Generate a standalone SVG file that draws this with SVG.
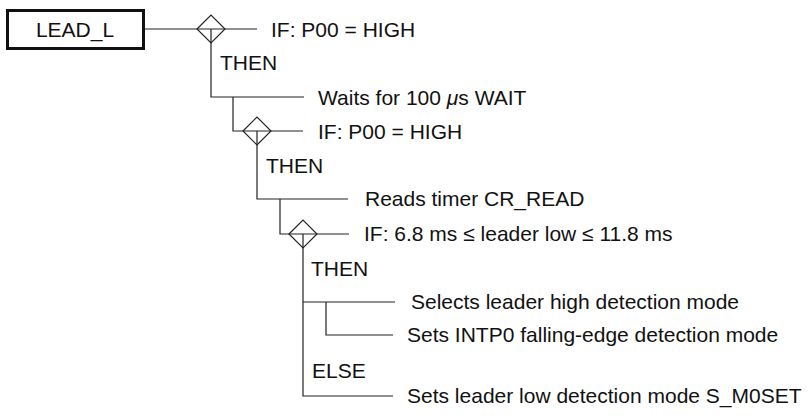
<svg xmlns="http://www.w3.org/2000/svg" width="812" height="420" viewBox="0 0 812 420">
<style>
text{font-family:"Liberation Sans",Arial,sans-serif;font-size:21px;fill:#111}
.ln{stroke:#222;stroke-width:1.2;fill:none}
.dm{stroke:#222;stroke-width:1.2;fill:#fff}
</style>
<rect width="812" height="420" fill="#fff"/>
<g id="connectors">
<path class="ln" d="M145,29H197 M225,29H257 M211,29V97H304 M233,97V131H243 M271,131H303 M257,131V199H348 M280,199V234H289 M317,234H349 M303,234V396H393 M303,302H395 M326,302V335H393"/>
</g>
<g id="lead_l">
<rect x="7.5" y="10.5" width="136" height="38" fill="#fff" stroke="#111" stroke-width="3"/>
<text x="75" y="37" text-anchor="middle">LEAD_L</text>
</g>
<g id="if1">
<path class="dm" d="M197,29L211,15L225,29L211,43Z"/>
<path class="ln" d="M197,29H225 M211,29V43"/>
<text x="271" y="36.5">IF: P00 = HIGH</text>
<text x="220" y="70">THEN</text>
</g>
<g id="wait">
<text x="318" y="104.5">Waits for 100 <tspan font-style="italic">μ</tspan>s WAIT</text>
</g>
<g id="if2">
<path class="dm" d="M243,131L257,117L271,131L257,145Z"/>
<path class="ln" d="M243,131H271 M257,131V145"/>
<text x="318" y="138.5">IF: P00 = HIGH</text>
<text x="266" y="173">THEN</text>
</g>
<g id="read">
<text x="365" y="206">Reads timer CR_READ</text>
</g>
<g id="if3">
<path class="dm" d="M289,234L303,220L317,234L303,248Z"/>
<path class="ln" d="M289,234H317 M303,234V248"/>
<text x="364" y="241">IF: 6.8 ms ≤ leader low ≤ 11.8 ms</text>
<text x="311" y="276">THEN</text>
<text x="312" y="378">ELSE</text>
</g>
<g id="high">
<text x="411" y="309">Selects leader high detection mode</text>
</g>
<g id="intp0">
<text x="407" y="342">Sets INTP0 falling-edge detection mode</text>
</g>
<g id="low">
<text x="407" y="403">Sets leader low detection mode S_M0SET</text>
</g>
</svg>
